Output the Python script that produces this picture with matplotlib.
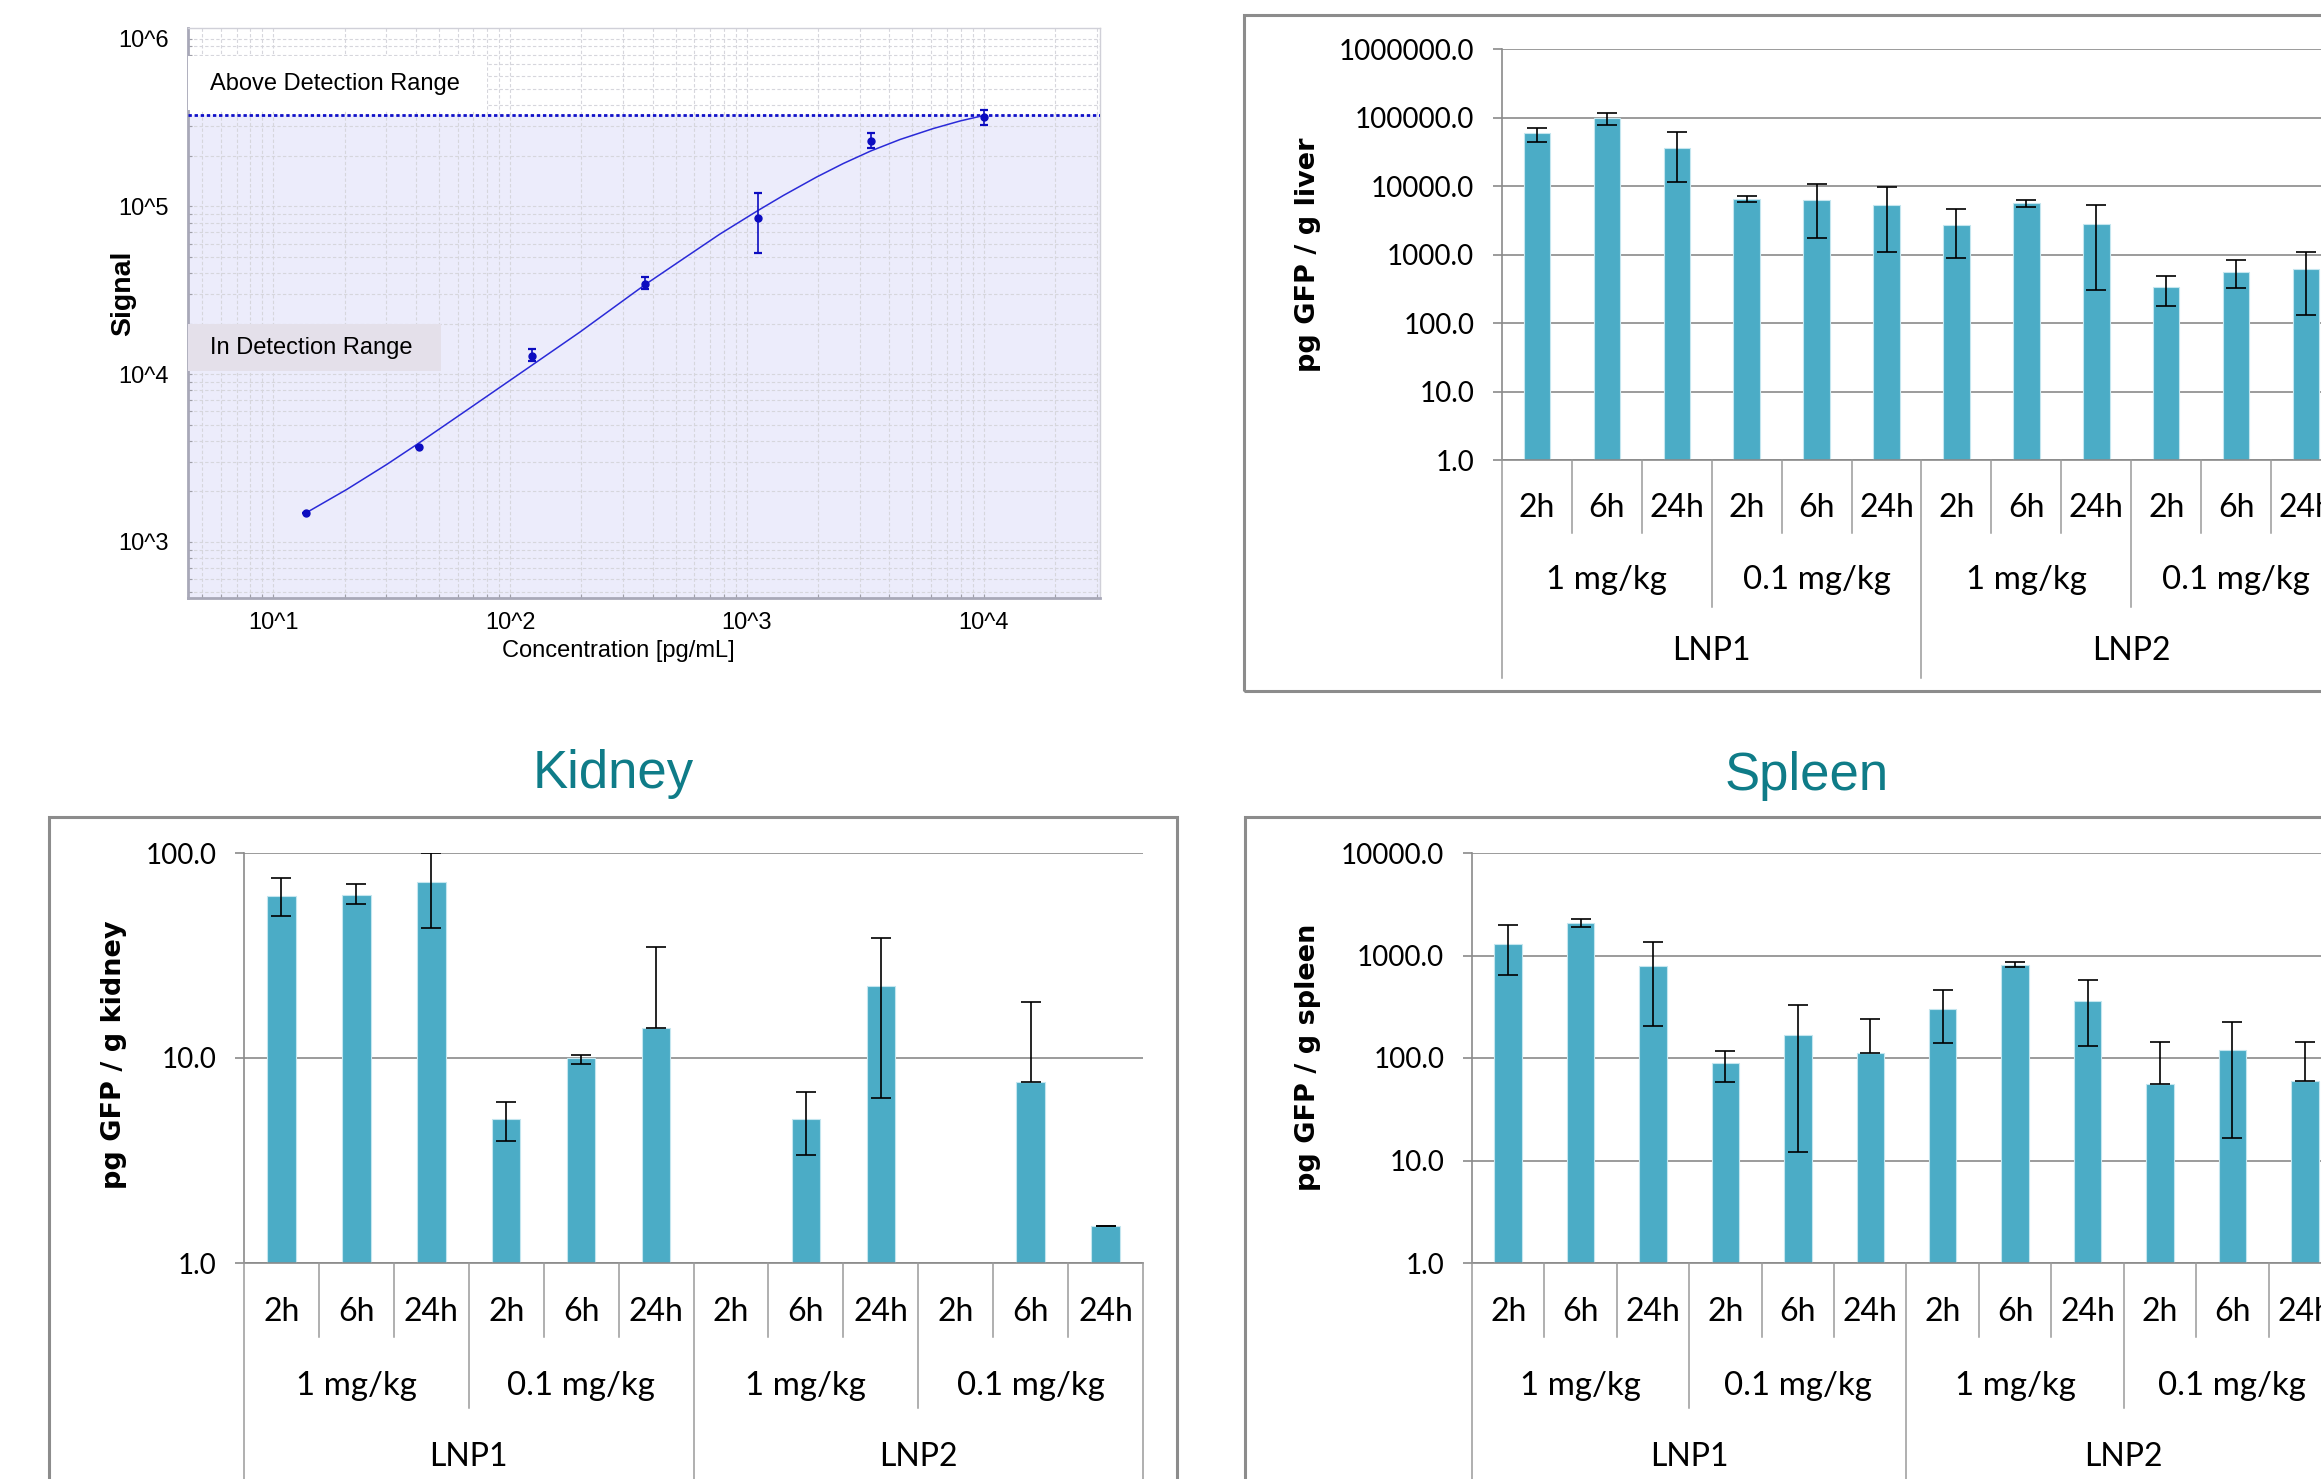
import numpy as np
import matplotlib
matplotlib.use('Agg')
import matplotlib.pyplot as plt
import matplotlib.transforms as mtransforms
from matplotlib.patches import Rectangle
from matplotlib.lines import Line2D
from matplotlib.ticker import FixedLocator, FixedFormatter, FuncFormatter, LogLocator, NullFormatter, NullLocator

W, H = 2321, 1479

# standard curve (3-fold dilution series)
std_conc = [13.7, 41.2, 123.5, 370.4, 1111.1, 3333.3, 10000]
std_signal = [1481, 3692, 12875, 34300, 85530, 246000, 339200]
std_lo = [1481, 3692, 12020, 32010, 52480, 222500, 305100]
std_hi = [1481, 3692, 14050, 37750, 120500, 274500, 374900]
fit_conc = [13.84, 20.42, 30.13, 40.36, 67.70, 124.1, 197.4, 372.4, 521.8, 769.8,
            1114, 1425, 1971, 2553, 3333, 4431, 6127, 7941, 10000]
fit_signal = [1497, 2053, 2893, 3806, 6281, 11330, 17820, 34200, 47210, 68370,
              94410, 116000, 149500, 179900, 213600, 250100, 290800, 322400, 347700]
upper_limit = 351400

# organ panels: 12 groups = LNP x dose x time
times = ['2h', '6h', '24h'] * 4
doses = ['1 mg/kg', '0.1 mg/kg'] * 2
lnps = ['LNP1', 'LNP2']

liver_mean = [60000, 100000, 35500, 6460, 6200, 5320, 2690, 5570, 2780, 337, 553, 610]
liver_lo = [43600, 77400, 11300, 5900, 1760, 1080, 900, 4900, 300, 177, 324, 130]
liver_hi = [70800, 118000, 61000, 7200, 10800, 9560, 4630, 6330, 5260, 480, 825, 1100]

kidney_mean = [61.5, 62.5, 72.0, 5.03, 10.0, 14.0, np.nan, 5.03, 22.4, np.nan, 7.6, 1.51]
kidney_lo = [49.2, 56.5, 43.0, 3.93, 9.35, 14.0, np.nan, 3.38, 6.37, np.nan, 7.6, 1.51]
kidney_hi = [75.7, 70.3, 100.0, 6.1, 10.3, 34.6, np.nan, 6.8, 38.3, np.nan, 18.8, 1.51]

spleen_mean = [1294, 2070, 782, 88.4, 169, 113, 299, 809, 357, 56, 121, 59.2]
spleen_lo = [640, 1890, 205, 58.4, 12.2, 113, 141, 764, 132, 56, 16.7, 59.2]
spleen_hi = [1980, 2260, 1367, 118, 327, 242, 462, 855, 578, 143, 226, 143]

BAR = '#4bacc6'
GRID = '#8a8a8a'
TEAL = '#0f7c88'
XLF = 'Lato'


def fx(px):
    return px / W


def fy(py):
    return 1 - py / H


def axes_px(fig, left, top, right, bottom):
    return fig.add_axes([fx(left), fy(bottom), (right - left) / W, (bottom - top) / H])


fig = plt.figure(figsize=(W / 100, H / 100), dpi=100)
fig.patch.set_facecolor('white')

# ---------- standard curve ----------
ax0 = axes_px(fig, 188, 28, 1100, 598)
ax0.set_xscale('log')
ax0.set_yscale('log')
ax0.set_xlim(10 ** 0.640, 10 ** 4.491)
ax0.set_ylim(10 ** 2.6657, 10 ** 6.0626)
ax0.set_axisbelow(True)
ax0.axhspan(10 ** 2.6657, upper_limit, color='#ececfb', zorder=0.1, lw=0)

ax0.xaxis.set_major_locator(FixedLocator([10, 100, 1000, 10000]))
ax0.xaxis.set_major_formatter(FixedFormatter(['10^1', '10^2', '10^3', '10^4']))
ax0.yaxis.set_major_locator(FixedLocator([1e3, 1e4, 1e5, 1e6]))
ax0.yaxis.set_major_formatter(FixedFormatter(['10^3', '10^4', '10^5', '10^6']))
for a in (ax0.xaxis, ax0.yaxis):
    a.set_minor_locator(LogLocator(base=10, subs=np.arange(2, 10), numticks=20))
    a.set_minor_formatter(NullFormatter())
ax0.grid(which='both', ls=(0, (3, 2)), color='#d6d6dc', lw=0.8)
ax0.tick_params(which='both', direction='in', color='#a0a0a8', length=3, width=0.8,
                labelsize=17)
ax0.tick_params(axis='y', pad=14)
ax0.tick_params(axis='x', pad=10)
for lab in ax0.get_xticklabels() + ax0.get_yticklabels():
    lab.set_family('Liberation Sans')
for s in ('left', 'bottom'):
    ax0.spines[s].set_color('#a8a8b8')
    ax0.spines[s].set_linewidth(2)
for s in ('top', 'right'):
    ax0.spines[s].set_color('#d0d0d8')
    ax0.spines[s].set_linewidth(1)

ax0.axhline(upper_limit, color='#1010c8', lw=2.0, ls=(0, (1.2, 1.0)), zorder=4)
ax0.plot(fit_conc, fit_signal, color='#2a2ad8', lw=1.1, zorder=5)
std_s = np.array(std_signal)
ax0.errorbar(std_conc, std_signal,
             yerr=[std_s - np.array(std_lo), np.array(std_hi) - std_s],
             fmt='o', ms=5, color='#0c0cc0', ecolor='#0c0cc0', elinewidth=1.2,
             capsize=2.6, capthick=1.6, zorder=6)

ax0.add_patch(Rectangle((fx(188), fy(110)), (487 - 188) / W, (110 - 56) / H,
                        transform=fig.transFigure, facecolor='white', lw=0, zorder=3))
ax0.add_patch(Rectangle((fx(188), fy(371)), (441 - 188) / W, (371 - 324) / H,
                        transform=fig.transFigure, facecolor='#e4e0ea', lw=0, zorder=3))
fig.text(fx(210), fy(84), 'Above Detection Range', fontsize=17, family='Liberation Sans',
         va='center', ha='left')
fig.text(fx(210), fy(348), 'In Detection Range', fontsize=17, family='Liberation Sans',
         va='center', ha='left')
fig.text(fx(123), fy(293), 'Signal', rotation=90, fontsize=20.5, fontweight='bold',
         family='Liberation Sans', ha='center', va='center')
fig.text(fx(618), fy(651), 'Concentration [pg/mL]', fontsize=17, family='Liberation Sans',
         ha='center', va='center')


# ---------- organ bar panels ----------
def organ_panel(ax, mean, lo, hi, ymax, rows, seps):
    mean = np.array(mean, dtype=float)
    lo = np.array(lo, dtype=float)
    hi = np.array(hi, dtype=float)
    x = np.arange(len(mean)) + 0.5
    ax.bar(x, mean, width=0.38, color=BAR, edgecolor='#c4e6ef', linewidth=0.8, zorder=2)
    ok = ~np.isnan(mean)
    ax.errorbar(x[ok], mean[ok], yerr=[mean[ok] - lo[ok], hi[ok] - mean[ok]], fmt='none',
                ecolor='black', elinewidth=1.2, capsize=7, capthick=1.2, zorder=3)
    ax.set_yscale('log')
    ax.set_xlim(0, len(mean))
    ax.set_ylim(1, ymax)
    ax.yaxis.set_major_locator(FixedLocator([10 ** k for k in range(int(round(np.log10(ymax))) + 1)]))
    ax.yaxis.set_major_formatter(FuncFormatter(lambda v, p: f'{v:.1f}'))
    ax.yaxis.set_minor_locator(NullLocator())
    ax.set_xticks([])
    ax.grid(axis='y', color=GRID, lw=1.2, zorder=1)
    ax.set_axisbelow(True)
    ax.tick_params(axis='y', direction='out', length=6.5, width=1.2, color=GRID,
                   pad=13.5, labelsize=20)
    for lab in ax.get_yticklabels():
        lab.set_family(XLF)
    for s in ('top', 'right'):
        ax.spines[s].set_visible(False)
    for s in ('left', 'bottom'):
        ax.spines[s].set_color(GRID)
        ax.spines[s].set_linewidth(1.2)

    # three-level category axis below the plot
    tr = mtransforms.blended_transform_factory(ax.transData, fig.transFigure)
    for i, t in enumerate(times):
        ax.text(i + 0.5, fy(rows[0]), t, transform=tr, ha='center', va='center',
                fontsize=23, family=XLF)
    for j, d in enumerate(doses):
        ax.text(j * 3 + 1.5, fy(rows[1]), d, transform=tr, ha='center', va='center',
                fontsize=23.8, family=XLF)
    for k, name in enumerate(lnps):
        ax.text(k * 6 + 3, fy(rows[2]), name, transform=tr, ha='center', va='center',
                fontsize=23, family=XLF)
    y0 = ax.get_position().y0
    for b in range(len(mean) + 1):
        end = seps[2] if b % 6 == 0 else (seps[1] if b % 3 == 0 else seps[0])
        fig.add_artist(Line2D([b, b], [y0, fy(end)], transform=tr, color='#9a9a9a', lw=1.1))


def frame(left, top, right, bottom):
    fig.add_artist(Rectangle((fx(left), fy(bottom)), (right - left) / W, (bottom - top) / H,
                             transform=fig.transFigure, fill=False, edgecolor='#8c8c8c', lw=2.2))


# liver
frame(1244, 15, 2400, 691)
ax1 = axes_px(fig, 1502, 49, 2341, 460)
organ_panel(ax1, liver_mean, liver_lo, liver_hi, 1e6, rows=(508, 580, 651), seps=(533, 607, 678))
fig.text(fx(1308), fy(255), 'pg GFP / g liver', rotation=90, fontsize=19.5, fontweight='bold',
         family='DejaVu Sans', ha='center', va='center')

# kidney
frame(49, 817, 1177, 1600)
ax2 = axes_px(fig, 244, 853, 1143, 1263)
organ_panel(ax2, kidney_mean, kidney_lo, kidney_hi, 100, rows=(1312, 1386, 1457), seps=(1337, 1408, 1600))
fig.text(fx(114), fy(1055), 'pg GFP / g kidney', rotation=90, fontsize=19.5, fontweight='bold',
         family='DejaVu Sans', ha='center', va='center')
fig.text(fx(613), fy(774), 'Kidney', fontsize=38, color=TEAL, family='Liberation Sans',
         ha='center', va='center')

# spleen
frame(1245, 817, 2400, 1600)
ax3 = axes_px(fig, 1472, 853, 2341, 1263)
organ_panel(ax3, spleen_mean, spleen_lo, spleen_hi, 1e4, rows=(1312, 1386, 1457), seps=(1337, 1408, 1600))
fig.text(fx(1308), fy(1057), 'pg GFP / g spleen', rotation=90, fontsize=19.5, fontweight='bold',
         family='DejaVu Sans', ha='center', va='center')
fig.text(fx(1807), fy(776), 'Spleen', fontsize=38, color=TEAL, family='Liberation Sans',
         ha='center', va='center')

fig.savefig('out.png', dpi=100)
